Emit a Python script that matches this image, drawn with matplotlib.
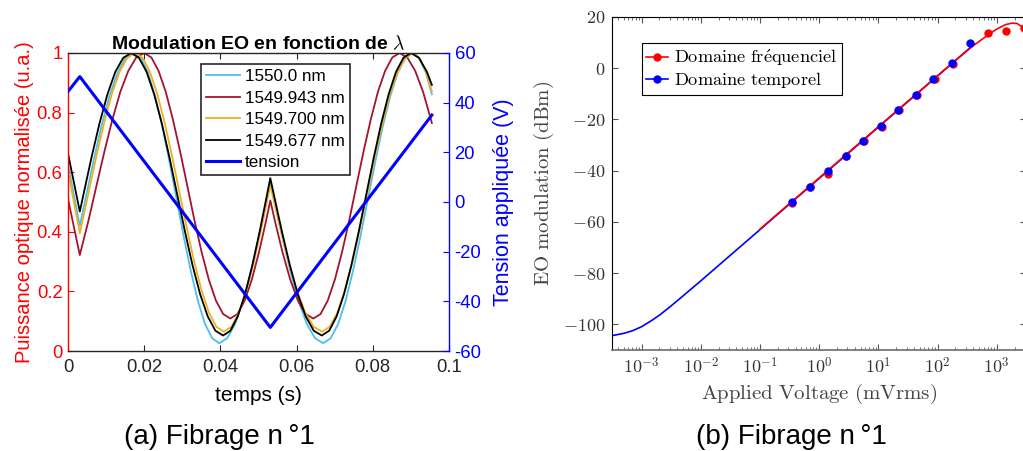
import numpy as np
import matplotlib.pyplot as plt
from matplotlib.ticker import FixedLocator, FuncFormatter, LogLocator
from matplotlib.lines import Line2D

plt.rcParams['font.family'] = ['Liberation Sans', 'DejaVu Sans']
plt.rcParams['mathtext.fontset'] = 'cm'

# (a) Modulation EO en fonction de lambda
t_tension = [0, 0.0031, 0.0531, 0.0955]
v_tension = [44.5, 50.5, -50.5, 35.0]

t_1550000 = [0, 0.0031, 0.00464, 0.00673, 0.00882, 0.01092, 0.01301, 0.01511, 0.0172,
             0.01908, 0.02095, 0.02283, 0.0247, 0.02658, 0.02845, 0.03033, 0.0322, 0.03408,
             0.03595, 0.03783, 0.0397, 0.04179, 0.04388, 0.04597, 0.04807, 0.05016, 0.05225,
             0.0531, 0.05398, 0.05615, 0.05832, 0.06049, 0.06266, 0.06483, 0.067, 0.06896,
             0.07092, 0.07288, 0.07483, 0.07679, 0.07875, 0.08071, 0.08267, 0.08463, 0.08658,
             0.08854, 0.0905, 0.0922, 0.0939, 0.0955]
p_1550000 = [0.625, 0.42, 0.513, 0.639, 0.757, 0.857, 0.935, 0.983, 1.0, 0.983, 0.935, 0.857,
             0.757, 0.639, 0.513, 0.387, 0.270, 0.169, 0.091, 0.043, 0.026, 0.043, 0.091, 0.169,
             0.270, 0.387, 0.513, 0.565, 0.513, 0.387, 0.270, 0.169, 0.091, 0.043, 0.026, 0.043,
             0.091, 0.169, 0.270, 0.387, 0.513, 0.639, 0.757, 0.857, 0.935, 0.983, 1.0, 0.983,
             0.935, 0.862]

t_1549943 = [0, 0.0031, 0.0054, 0.00748, 0.00957, 0.01165, 0.01374, 0.01583, 0.01791, 0.02,
             0.02188, 0.02377, 0.02565, 0.02753, 0.02942, 0.0313, 0.03318, 0.03507, 0.03695,
             0.03883, 0.04072, 0.0426, 0.04448, 0.04637, 0.04825, 0.05014, 0.05202, 0.0531,
             0.05426, 0.05629, 0.05832, 0.06034, 0.06237, 0.0644, 0.06628, 0.06817, 0.07005,
             0.07193, 0.07382, 0.0757, 0.07758, 0.07947, 0.08135, 0.08323, 0.08512, 0.087,
             0.08906, 0.09113, 0.09319, 0.09525, 0.0955]
p_1549943 = [0.51, 0.322, 0.439, 0.555, 0.670, 0.777, 0.870, 0.940, 0.985, 1.0, 0.985, 0.940,
             0.870, 0.777, 0.670, 0.555, 0.439, 0.332, 0.240, 0.169, 0.124, 0.109, 0.124, 0.169,
             0.240, 0.332, 0.439, 0.505, 0.439, 0.332, 0.240, 0.169, 0.124, 0.109, 0.124, 0.169,
             0.240, 0.332, 0.439, 0.555, 0.670, 0.777, 0.870, 0.940, 0.985, 1.0, 0.985, 0.940,
             0.870, 0.777, 0.765]

t_1549700 = [0, 0.0031, 0.00542, 0.00745, 0.00948, 0.01151, 0.01354, 0.01557, 0.0176,
             0.01954, 0.02148, 0.02343, 0.02537, 0.02731, 0.02925, 0.03119, 0.03313, 0.03508,
             0.03702, 0.03896, 0.0409, 0.04287, 0.04484, 0.04682, 0.04879, 0.05076, 0.05273,
             0.0531, 0.05351, 0.05571, 0.05791, 0.0601, 0.0623, 0.0645, 0.0667, 0.06868,
             0.07067, 0.07265, 0.07463, 0.07662, 0.0786, 0.08058, 0.08257, 0.08455, 0.08653,
             0.08852, 0.0905, 0.09223, 0.09396, 0.0955]
p_1549700 = [0.605, 0.395, 0.533, 0.654, 0.766, 0.863, 0.937, 0.984, 1.0, 0.984, 0.937, 0.863,
             0.766, 0.654, 0.533, 0.412, 0.299, 0.202, 0.128, 0.081, 0.065, 0.081, 0.128, 0.202,
             0.299, 0.412, 0.533, 0.555, 0.533, 0.412, 0.299, 0.202, 0.128, 0.081, 0.065, 0.081,
             0.128, 0.202, 0.299, 0.412, 0.533, 0.654, 0.766, 0.863, 0.937, 0.984, 1.0, 0.984,
             0.937, 0.872]

t_1549677 = [0, 0.0031, 0.00407, 0.00616, 0.00825, 0.01034, 0.01242, 0.01451, 0.0166,
             0.01861, 0.02062, 0.02262, 0.02463, 0.02664, 0.02865, 0.03066, 0.03266, 0.03467,
             0.03668, 0.03869, 0.0407, 0.04263, 0.04455, 0.04648, 0.04841, 0.05034, 0.05226,
             0.0531, 0.05401, 0.05611, 0.05821, 0.0603, 0.0624, 0.0645, 0.0666, 0.06855,
             0.0705, 0.07245, 0.0744, 0.07635, 0.0783, 0.08025, 0.0822, 0.08415, 0.0861,
             0.08805, 0.0900, 0.0921, 0.0942, 0.0955]
p_1549677 = [0.663, 0.468, 0.526, 0.649, 0.763, 0.861, 0.937, 0.984, 1.0, 0.984, 0.937, 0.861,
             0.763, 0.649, 0.526, 0.403, 0.289, 0.191, 0.116, 0.068, 0.052, 0.068, 0.116, 0.191,
             0.289, 0.403, 0.526, 0.58, 0.526, 0.403, 0.289, 0.191, 0.116, 0.068, 0.052, 0.068,
             0.116, 0.191, 0.289, 0.403, 0.526, 0.649, 0.763, 0.861, 0.937, 0.984, 1.0, 0.984,
             0.937, 0.893]

labels_a = ['1550.0 nm', '1549.943 nm', '1549.700 nm', '1549.677 nm', 'tension']

# (b) EO modulation vs tension appliquee
v_temp_line = [3.16e-4, 5e-4, 7e-4, 1e-3, 1.5e-3, 2e-3, 3e-3, 5e-3, 1e-2, 1e-1, 1, 10, 100, 420]
db_temp_line = [-104.4, -103.5, -102.5, -100.9, -98.4, -96.4, -93.2, -88.9, -83.0, -63.0,
                -43.0, -23.0, -3.0, 9.5]
v_freq_line = [0.1, 1, 10, 100, 150, 200, 300, 400, 500, 700, 1000, 1400, 1800, 2200, 2600,
               3000, 3200]
db_freq_line = [-62.8, -42.8, -22.8, -2.9, 0.6, 3.0, 6.4, 8.8, 10.4, 12.9, 15.3, 17.0, 17.6,
                17.5, 16.3, 14.2, 13.0]
v_freq_pts = [0.35, 0.71, 1.43, 2.87, 5.7, 11.4, 22.7, 45, 90, 180, 710, 1440, 2850]
db_freq_pts = [-52.6, -46.5, -41.4, -34.4, -28.5, -22.9, -16.5, -10.5, -4.3, 1.8, 13.6, 14.7, 15.6]
v_temp_pts = [0.35, 0.71, 1.43, 2.87, 5.6, 11, 21.7, 42.7, 85, 172, 355]
db_temp_pts = [-52.4, -46.2, -40.2, -34.2, -28.3, -22.7, -16.3, -10.3, -4.1, 2.0, 10.0]

fig = plt.figure(figsize=(10.23, 4.51), dpi=100)

# ---- (a)
ax = fig.add_axes([68 / 1023, 100 / 451, 381 / 1023, 298 / 451])
ax2 = ax.twinx()
l1, = ax.plot(t_1550000, p_1550000, color='#4DBEEE', lw=1.3)
l2, = ax.plot(t_1549943, p_1549943, color='#A2142F', lw=1.3)
l3, = ax.plot(t_1549700, p_1549700, color='#EDB120', lw=1.3)
l4, = ax.plot(t_1549677, p_1549677, color='black', lw=1.3)
l5, = ax2.plot(t_tension, v_tension, color='#0000FF', lw=2.2)

ax.set_xlim(0, 0.1)
ax.set_ylim(0, 1)
ax2.set_ylim(-60, 60)
ax.set_xticks([0, 0.02, 0.04, 0.06, 0.08, 0.1])
ax.set_yticks([0, 0.2, 0.4, 0.6, 0.8, 1])
ax2.set_yticks([-60, -40, -20, 0, 20, 40, 60])
fmt = FuncFormatter(lambda v, p: '%g' % v)
ax.xaxis.set_major_formatter(fmt)
ax.yaxis.set_major_formatter(fmt)
ax2.yaxis.set_major_formatter(fmt)

ax.tick_params(direction='in', length=4, width=0.8, top=True, labelsize=13.3)
ax.tick_params(axis='x', pad=6, colors='#262626')
ax.tick_params(axis='y', colors='red', pad=4)
ax2.tick_params(axis='y', direction='in', length=4, width=0.8, colors='blue', labelsize=13.3, pad=4)
ax.spines['left'].set_color('red')
ax.spines['right'].set_visible(False)
ax.spines['top'].set_color('#262626')
ax.spines['bottom'].set_color('#262626')
ax2.spines['left'].set_visible(False)
ax2.spines['top'].set_visible(False)
ax2.spines['bottom'].set_visible(False)
ax2.spines['right'].set_color('blue')
for s in ['left', 'top', 'bottom']:
    ax.spines[s].set_linewidth(1.0)
ax2.spines['right'].set_linewidth(1.0)

ax.set_title(r'Modulation EO en fonction de $\lambda$', fontweight='bold', fontsize=14, pad=3)
ax.set_xlabel('temps (s)', fontsize=15, labelpad=7)
ax.set_ylabel('Puissance optique normalisée (u.a.)', color='red', fontsize=14.5, labelpad=2)
ax2.set_ylabel('Tension appliquée (V)', color='blue', fontsize=15.5, labelpad=8)

leg = ax2.legend([l1, l2, l3, l4, l5], labels_a, loc='upper left', bbox_to_anchor=(0.349, 0.963),
                 borderaxespad=0, fontsize=12.3, fancybox=False, framealpha=1, edgecolor='#262626',
                 handlelength=2.0, handletextpad=0.25, borderpad=0.3, labelspacing=0.38)
leg.get_frame().set_linewidth(1.2)

# ---- (b)
axr = fig.add_axes([612 / 1023, 101 / 451, 414.4 / 1023, 333 / 451])
axr.set_xscale('log')
axr.plot(v_temp_line, db_temp_line, color='blue', lw=1.2, zorder=2)
axr.plot(v_freq_line, db_freq_line, color='red', lw=1.2, zorder=3)
axr.plot(v_freq_pts, db_freq_pts, 'o', color='red', ms=5, zorder=4)
axr.plot(v_temp_pts, db_temp_pts, 'o', color='blue', ms=5, zorder=5)
axr.set_xlim(10 ** -3.5, 10 ** 3.5)
axr.set_ylim(-110, 20)

axr.xaxis.set_major_locator(FixedLocator([1e-3, 1e-2, 1e-1, 1, 10, 100, 1000]))
axr.xaxis.set_major_formatter(FuncFormatter(lambda v, p: r'$10^{%d}$' % int(round(np.log10(v)))))
axr.xaxis.set_minor_locator(LogLocator(base=10, subs=np.arange(2, 10), numticks=30))
axr.yaxis.set_major_locator(FixedLocator([-100, -80, -60, -40, -20, 0, 20]))
axr.yaxis.set_major_formatter(FuncFormatter(lambda v, p: r'$%d$' % v))
axr.tick_params(which='both', direction='in', top=True, right=True, color='#555555',
                labelcolor='#333333', labelsize=13)
axr.tick_params(which='major', length=4, width=0.8)
axr.tick_params(which='minor', length=2, width=0.6)
axr.tick_params(axis='x', pad=5)
axr.tick_params(axis='y', pad=5)
axr.spines['bottom'].set_color('#777777')
axr.spines['bottom'].set_linewidth(1.3)

axr.set_xlabel(r'$\mathrm{Applied\ Voltage\ (mVrms)}$', fontsize=15, color='#444444', labelpad=3)
axr.set_ylabel(r'$\mathrm{EO\ modulation\ (dBm)}$', fontsize=15, color='#444444', labelpad=5)

h_freq = Line2D([], [], color='red', marker='o', ms=5, lw=1.2)
h_temp = Line2D([], [], color='blue', marker='o', ms=5, lw=1.2)
legr = axr.legend([h_freq, h_temp],
                  [r'$\mathrm{Domaine\ fr\acute{e}quenciel}$', r'$\mathrm{Domaine\ temporel}$'],
                  loc='upper left', bbox_to_anchor=(0.072, 0.922), borderaxespad=0, fontsize=13.2,
                  fancybox=False, framealpha=1, edgecolor='black', handlelength=1.2,
                  handletextpad=0.3, borderpad=0.25, labelspacing=0.1)
legr.get_frame().set_linewidth(0.8)

fig.text(219 / 1023, 14 / 451, '(a) Fibrage n\u2009°1', ha='center', va='center', fontsize=20)
fig.text(791 / 1023, 14 / 451, '(b) Fibrage n\u2009°1', ha='center', va='center', fontsize=20)

fig.savefig('out.png', dpi=100)
